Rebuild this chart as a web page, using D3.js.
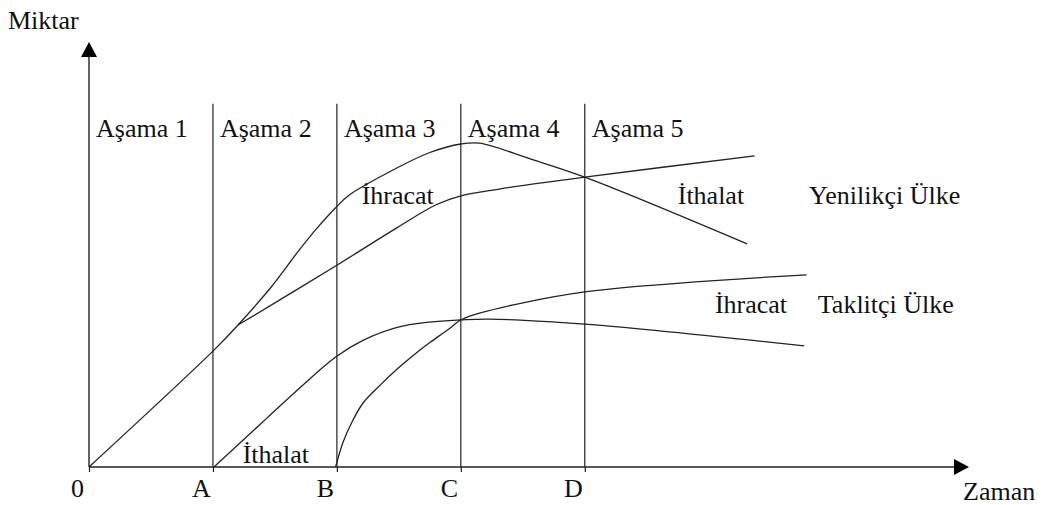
<!DOCTYPE html>
<html>
<head>
<meta charset="utf-8">
<script src="https://cdn.jsdelivr.net/npm/d3@7"></script>
<style>
  body { margin: 0; background: #fff; }
  svg text { font-family: "Liberation Serif", "DejaVu Serif", serif; fill: #111; }
</style>
</head>
<body>
<div id="chart"></div>
<script>
// stages and time marks
var stageLabels = ["Aşama 1", "Aşama 2", "Aşama 3", "Aşama 4", "Aşama 5"];
var stageStarts = [0, 1, 2, 3, 4];
var tickValues = [0, 1, 2, 3, 4];
var tickLabels = ["0", "A", "B", "C", "D"];

// innovator country (Yenilikçi Ülke)
var innovatorProduction = [[0, 0], [1.008, 2.75], [1.202, 3.34], [1.46, 4.20], [1.70, 5.12], [1.84, 5.62],
  [1.99, 6.10], [2.10, 6.40], [2.48, 7.03], [2.75, 7.40], [3.00, 7.60], [3.15, 7.62], [3.56, 7.25],
  [4.00, 6.82], [5.31, 5.25]];
var innovatorConsumption = [[1.202, 3.34], [1.99, 4.73], [2.48, 5.62], [2.80, 6.17], [3.00, 6.38],
  [3.31, 6.54], [4.00, 6.82], [5.37, 7.32]];

// imitator country (Taklitçi Ülke)
var imitatorConsumption = [[1.008, 0], [1.435, 1.15], [1.70, 1.86], [1.99, 2.59], [2.21, 2.98],
  [2.48, 3.28], [2.75, 3.41], [3.00, 3.46], [3.23, 3.48], [4.00, 3.36], [5.77, 2.85]];
var imitatorProduction = [[1.99, 0], [2.048, 0.57], [2.129, 1.10], [2.21, 1.50], [2.347, 1.92],
  [2.484, 2.30], [2.613, 2.62], [2.75, 2.93], [2.887, 3.21], [3.00, 3.46], [3.15, 3.62],
  [4.00, 4.12], [5.79, 4.52]];

// text labels inside the chart: [text, x, y]
var curveLabels = [
  ["İhracat", 2.2, 6.2],
  ["İthalat", 4.75, 6.2],
  ["Yenilikçi Ülke", 5.81, 6.2],
  ["İhracat", 5.05, 3.63],
  ["Taklitçi Ülke", 5.88, 3.63],
  ["İthalat", 1.24, 0.09]
];

var svgWidth = 1043, svgHeight = 505;
var fontSize = 26;

var svg = d3.select("#chart").append("svg")
  .attr("width", svgWidth)
  .attr("height", svgHeight);

var x = d3.scaleLinear().domain([0, 7.1]).range([89, 969]);
var y = d3.scaleLinear().domain([0, 10]).range([467, 42]);

var ink = "#222";

// x axis with letters
var xAxis = d3.axisBottom(x)
  .tickValues(tickValues)
  .tickFormat(function(d, i) { return tickLabels[i]; })
  .tickSizeInner(5)
  .tickSizeOuter(0)
  .tickPadding(7);

var gx = svg.append("g")
  .attr("transform", `translate(0, ${y(0)})`)
  .call(xAxis);
gx.select(".domain").remove();
gx.selectAll("line").attr("stroke", ink).attr("stroke-width", 1.2);
gx.selectAll("text")
  .attr("font-size", fontSize)
  .attr("fill", "#111")
  .attr("dx", -12);

// axis lines
svg.append("line")
  .attr("x1", x(0)).attr("y1", y(0))
  .attr("x2", x(7.1) - 12).attr("y2", y(0))
  .attr("stroke", ink).attr("stroke-width", 1.4);
svg.append("line")
  .attr("x1", x(0)).attr("y1", y(0))
  .attr("x2", x(0)).attr("y2", y(10) + 12)
  .attr("stroke", ink).attr("stroke-width", 1.4);

// arrow heads
svg.append("path")
  .attr("d", `M${x(7.1)},${y(0)} L${x(7.1) - 15},${y(0) - 8} L${x(7.1) - 15},${y(0) + 8} Z`)
  .attr("fill", "#000");
svg.append("path")
  .attr("d", `M${x(0)},${y(10)} L${x(0) - 8},${y(10) + 15} L${x(0) + 8},${y(10) + 15} Z`)
  .attr("fill", "#000");

// stage separators
svg.selectAll(".stage-line")
  .data(stageStarts.slice(1))
  .enter()
  .append("line")
  .attr("class", "stage-line")
  .attr("x1", d => x(d)).attr("x2", d => x(d))
  .attr("y1", y(0)).attr("y2", y(8.55))
  .attr("stroke", ink).attr("stroke-width", 1.2);

// stage labels
svg.selectAll(".stage-label")
  .data(stageLabels)
  .enter()
  .append("text")
  .attr("class", "stage-label")
  .attr("x", (d, i) => x(stageStarts[i]) + 7)
  .attr("y", 137)
  .attr("font-size", fontSize)
  .text(d => d);

// curves
var line = d3.line()
  .x(d => x(d[0]))
  .y(d => y(d[1]))
  .curve(d3.curveCatmullRom.alpha(0.5));

[innovatorProduction, innovatorConsumption, imitatorConsumption, imitatorProduction].forEach(function(series) {
  svg.append("path")
    .datum(series)
    .attr("d", line)
    .attr("fill", "none")
    .attr("stroke", ink)
    .attr("stroke-width", 1.3);
});

// curve labels
svg.selectAll(".curve-label")
  .data(curveLabels)
  .enter()
  .append("text")
  .attr("class", "curve-label")
  .attr("x", d => x(d[1]))
  .attr("y", d => y(d[2]))
  .attr("font-size", fontSize)
  .text(d => d[0]);

// axis titles
svg.append("text")
  .attr("x", 8)
  .attr("y", 29)
  .attr("font-size", fontSize)
  .text("Miktar");

svg.append("text")
  .attr("x", 963)
  .attr("y", 500)
  .attr("font-size", fontSize)
  .text("Zaman");
</script>
</body>
</html>
